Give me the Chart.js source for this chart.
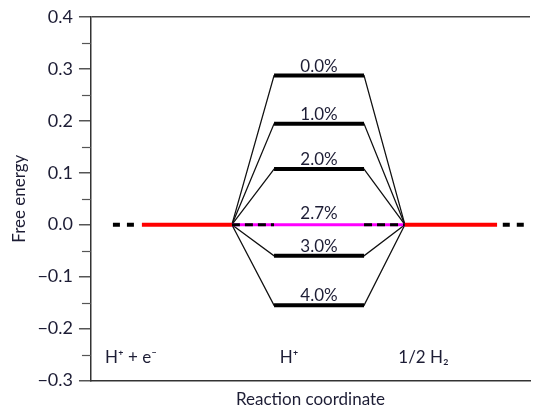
<!DOCTYPE html>
<html>
<head>
<meta charset="utf-8">
<script src="https://cdn.jsdelivr.net/npm/chart.js@4/dist/chart.umd.min.js"></script>
<style>
  body { margin: 0; background: #fff; }
</style>
</head>
<body>
<canvas id="energyChart" width="537" height="410"></canvas>
<script>
// strain labels and free energy of adsorbed H (eV)
const strainLabels = ['0.0%', '1.0%', '2.0%', '2.7%', '3.0%', '4.0%'];
const adsorbedEnergy = [0.287, 0.194, 0.107, 0.0, -0.060, -0.155];

// reaction coordinate positions (arbitrary units 0..10)
const stateLabels = ['H\u207A + e\u207B', 'H\u207A', '1/2 H\u2082'];
const stateLabelX = [0.32, 4.3, 7.0];
const stateLabelY = -0.255;

const leftDash = [0.5, 1.0];
const leftLevel = [1.16, 3.21];
const middleLevel = [4.17, 6.22];
const rightLevel = [7.15, 9.25];
const rightDash = [9.38, 9.9];

const yTicks = [-0.3, -0.2, -0.1, 0.0, 0.1, 0.2, 0.3, 0.4];
const yMinorTicks = [-0.25, -0.15, -0.05, 0.05, 0.15, 0.25, 0.35];

const textColor = '#1d1d35';
const fontFamily = 'Lato, "Open Sans", sans-serif';

const datasets = [];

// red end levels + dashes
[leftLevel, rightLevel].forEach(seg => {
    datasets.push({
        data: [{x: seg[0], y: 0}, {x: seg[1], y: 0}],
        borderColor: '#ff0000', borderWidth: 4, order: 0
    });
});
[leftDash, rightDash].forEach(seg => {
    datasets.push({
        data: [{x: seg[0], y: 0}, {x: seg[1], y: 0}],
        borderColor: '#000', borderWidth: 4, borderDash: [7, 7], order: 0
    });
});

strainLabels.forEach((label, i) => {
    const h = adsorbedEnergy[i];
    if (h === 0) {
        // 2.7% : magenta level with dashed connections
        datasets.push({
            data: [{x: leftLevel[1], y: 0}, {x: rightLevel[0], y: 0}],
            borderColor: '#ff00ff', borderWidth: 3, order: 3
        });
        [[leftLevel[1], middleLevel[0]], [middleLevel[1], rightLevel[0]]].forEach(seg => {
            datasets.push({
                data: [{x: seg[0], y: 0}, {x: seg[1], y: 0}],
                borderColor: '#000', borderWidth: 3, borderDash: [8, 5], order: 1
            });
        });
        return;
    }
    datasets.push({
        data: [
            {x: leftLevel[1], y: 0},
            {x: middleLevel[0], y: h},
            {x: middleLevel[1], y: h},
            {x: rightLevel[0], y: 0}
        ],
        borderColor: '#111', borderWidth: 1.3, order: 4
    });
    datasets.push({
        data: [{x: middleLevel[0], y: h}, {x: middleLevel[1], y: h}],
        borderColor: '#000', borderWidth: 4, order: 1
    });
});

const annotations = {
    id: 'annotations',
    afterDatasetsDraw(chart) {
        const {ctx, scales: {x, y}, chartArea} = chart;
        ctx.save();
        ctx.fillStyle = textColor;
        ctx.font = '17px ' + fontFamily;
        ctx.textAlign = 'center';
        ctx.textBaseline = 'alphabetic';
        const cx = x.getPixelForValue((middleLevel[0] + middleLevel[1]) / 2);
        strainLabels.forEach((label, i) => {
            const py = y.getPixelForValue(adsorbedEnergy[i]);
            ctx.fillText(label, cx, py - (adsorbedEnergy[i] === 0 ? 6 : 4));
        });
        ctx.textAlign = 'left';
        ctx.textBaseline = 'middle';
        stateLabels.forEach((label, i) => {
            ctx.fillText(label, x.getPixelForValue(stateLabelX[i]), y.getPixelForValue(stateLabelY));
        });
        // minor ticks
        ctx.strokeStyle = '#555';
        ctx.lineWidth = 1.2;
        yMinorTicks.forEach(v => {
            const py = Math.round(y.getPixelForValue(v)) + 0.5;
            ctx.beginPath();
            ctx.moveTo(chartArea.left - 9, py);
            ctx.lineTo(chartArea.left, py);
            ctx.stroke();
        });
        ctx.restore();
    }
};

new Chart(document.getElementById('energyChart'), {
    type: 'line',
    data: { datasets: datasets },
    options: {
        responsive: false,
        animation: false,
        events: [],
        layout: { padding: { left: 9, right: 7, top: 10, bottom: 0 } },
        elements: { point: { radius: 0 }, line: { tension: 0, fill: false } },
        plugins: { legend: { display: false }, tooltip: { enabled: false } },
        scales: {
            x: {
                type: 'linear',
                min: 0,
                max: 10,
                ticks: { display: false },
                grid: { display: false },
                border: { display: true, color: '#333', width: 1.5 },
                title: {
                    display: true,
                    text: 'Reaction coordinate',
                    color: textColor,
                    font: { family: fontFamily, size: 17 },
                    padding: { top: 1, bottom: 0 }
                }
            },
            y: {
                min: -0.3,
                max: 0.4,
                afterBuildTicks(scale) {
                    scale.ticks = yTicks.map(v => ({value: v}));
                },
                ticks: {
                    color: textColor,
                    font: { family: fontFamily, size: 18 },
                    padding: 6,
                    callback: v => (Math.abs(v) < 1e-9 ? '0.0' : v.toFixed(1).replace('-', '\u2212'))
                },
                grid: {
                    drawOnChartArea: true,
                    color: c => (c.tick && Math.abs(c.tick.value - 0.4) < 1e-9 ? '#444' : 'rgba(0,0,0,0)'),
                    lineWidth: 1.5,
                    tickLength: 12,
                    tickColor: '#555'
                },
                border: { display: true, color: '#333', width: 1.5 },
                title: {
                    display: true,
                    text: 'Free energy',
                    color: textColor,
                    font: { family: fontFamily, size: 17 },
                    padding: { top: 0, bottom: 2 }
                }
            }
        }
    },
    plugins: [annotations]
});
</script>
</body>
</html>
